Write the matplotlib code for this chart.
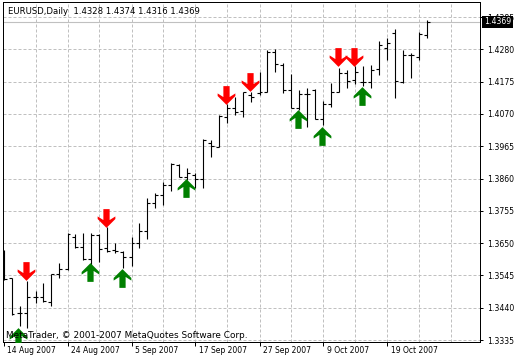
import numpy as np
import matplotlib
matplotlib.use('Agg')
import matplotlib.pyplot as plt
from matplotlib.path import Path

# daily EURUSD bars, 14 Aug 2007 .. 26 Oct 2007
opens = [1.3589, 1.3537, 1.3424, 1.3424, 1.3475, 1.3475, 1.3459, 1.3550, 1.3566, 1.3670,
         1.3637, 1.3598, 1.3676, 1.3634, 1.3628, 1.3621, 1.3605, 1.3650, 1.3689, 1.3780,
         1.3806, 1.3839, 1.3904, 1.3865, 1.3871, 1.3858, 1.3975, 1.3962, 1.4060, 1.4089,
         1.4079, 1.4131, 1.4138, 1.4141, 1.4271, 1.4229, 1.4148, 1.4089, 1.4135, 1.4148,
         1.4053, 1.4102, 1.4141, 1.4203, 1.4180, 1.4174, 1.4174, 1.4216, 1.4284, 1.4333,
         1.4174, 1.4261, 1.4255, 1.4328]
highs = [1.3628, 1.3537, 1.3446, 1.3527, 1.3494, 1.3520, 1.3550, 1.3585, 1.3683, 1.3680,
         1.3683, 1.3683, 1.3680, 1.3702, 1.3650, 1.3624, 1.3670, 1.3715, 1.3797, 1.3813,
         1.3849, 1.3910, 1.3907, 1.3894, 1.3878, 1.3988, 1.3985, 1.4066, 1.4102, 1.4125,
         1.4141, 1.4141, 1.4206, 1.4278, 1.4281, 1.4235, 1.4200, 1.4148, 1.4154, 1.4151,
         1.4112, 1.4170, 1.4219, 1.4213, 1.4226, 1.4226, 1.4229, 1.4307, 1.4317, 1.4346,
         1.4278, 1.4268, 1.4336, 1.4374]
lows = [1.3530, 1.3416, 1.3381, 1.3374, 1.3455, 1.3459, 1.3446, 1.3537, 1.3563, 1.3634,
        1.3595, 1.3576, 1.3589, 1.3621, 1.3618, 1.3569, 1.3576, 1.3634, 1.3663, 1.3764,
        1.3774, 1.3819, 1.3865, 1.3855, 1.3829, 1.3829, 1.3930, 1.3962, 1.4040, 1.4066,
        1.4060, 1.4109, 1.4131, 1.4141, 1.4206, 1.4138, 1.4089, 1.4083, 1.4027, 1.4053,
        1.4034, 1.4092, 1.4141, 1.4154, 1.4167, 1.4161, 1.4154, 1.4196, 1.4245, 1.4122,
        1.4170, 1.4187, 1.4245, 1.4316]
closes = [1.3533, 1.3420, 1.3424, 1.3475, 1.3475, 1.3462, 1.3550, 1.3566, 1.3680, 1.3637,
          1.3598, 1.3676, 1.3631, 1.3624, 1.3624, 1.3605, 1.3650, 1.3689, 1.3780, 1.3806,
          1.3839, 1.3907, 1.3865, 1.3878, 1.3858, 1.3985, 1.3966, 1.4063, 1.4089, 1.4076,
          1.4141, 1.4125, 1.4141, 1.4271, 1.4232, 1.4148, 1.4089, 1.4135, 1.4135, 1.4053,
          1.4102, 1.4141, 1.4203, 1.4177, 1.4206, 1.4174, 1.4213, 1.4294, 1.4300, 1.4177,
          1.4261, 1.4261, 1.4330, 1.4369]

# signal arrows (bar index, price)
sell_bars = [3, 13, 28, 31, 42, 44]
sell_prices = [1.3559, 1.3732, 1.4131, 1.4174, 1.4255, 1.4255]
buy_bars = [2, 11, 15, 23, 37, 40, 45]
buy_prices = [1.3345, 1.3555, 1.3537, 1.3829, 1.4053, 1.3998, 1.4127]

price_ticks = [1.3335, 1.3440, 1.3545, 1.3650, 1.3755, 1.3860, 1.3965, 1.4070, 1.4175, 1.4280, 1.4385]
date_bars = [0, 8, 16, 24, 32, 40, 48]
date_labels = ['14 Aug 2007', '24 Aug 2007', '5 Sep 2007', '17 Sep 2007',
               '27 Sep 2007', '9 Oct 2007', '19 Oct 2007']

title = 'EURUSD,Daily  1.4328 1.4374 1.4316 1.4369'
copyright_txt = 'MetaTrader, \u00a9 2001-2007 MetaQuotes Software Corp.'

fig = plt.figure(figsize=(5.2, 3.6), dpi=100)
ax = fig.add_axes([3/520, 18/360, 477/520, 340/360])
ax.set_xlim(-0.0625, 59.5625)
ax.set_ylim(1.33285, 1.44338)

grid_col = '#c0c0c0'
for k in range(4, 60, 4):
    ax.axvline(k, color=grid_col, lw=0.72, ls=(0, (3, 2)), zorder=0)
for p in price_ticks:
    ax.axhline(p, color=grid_col, lw=0.72, ls=(0, (3, 2)), zorder=0)
ax.axhline(closes[-1], color=grid_col, lw=0.8, zorder=0.5)

# OHLC bars
x = np.arange(len(opens))
ax.vlines(x, lows, highs, color='black', lw=0.8, zorder=2)
ax.hlines(opens, x - 0.375, x, color='black', lw=0.8, zorder=2)
ax.hlines(closes, x, x + 0.375, color='black', lw=0.8, zorder=2)

# arrows
dv = [(-3, 9), (3, 9), (3, -1.5), (8.5, 2), (8.5, -0.5), (0, -9), (-8.5, -0.5), (-8.5, 2), (-3, -1.5)]
down_marker = Path(dv + [dv[0]], closed=True)
up_marker = Path([(a, -b) for a, b in dv] + [(dv[0][0], -dv[0][1])], closed=True)
ax.plot(np.array(sell_bars) - 0.15, sell_prices, ls='none', marker=down_marker,
        ms=13.5, mfc='#ff0000', mec='none', zorder=4, clip_on=False)
ax.plot(np.array(buy_bars) - 0.15, buy_prices, ls='none', marker=up_marker,
        ms=13.5, mfc='#008000', mec='none', zorder=4)

# axes
for s in ax.spines.values():
    s.set_linewidth(0.72)
    s.set_color('black')
ax.yaxis.tick_right()
ax.set_yticks(price_ticks)
ax.set_yticklabels(['%.4f' % p for p in price_ticks], fontsize=5.6)
ax.tick_params(axis='y', direction='out', length=2.5, width=0.72, pad=2.5, colors='black')
ax.set_xticks(date_bars)
ax.set_xticklabels([])
ax.tick_params(axis='x', direction='out', length=3, width=0.72)

for b, lab in zip(date_bars, date_labels):
    ax.annotate(lab, xy=(b, 0), xycoords=('data', 'axes fraction'), xytext=(3.5, -4),
                textcoords='offset pixels', ha='left', va='top', fontsize=5.5,
                annotation_clip=False)

ax.annotate(title, xy=(0, 1), xycoords='axes fraction', xytext=(5, -12),
            textcoords='offset pixels', ha='left', va='baseline', fontsize=6.1, zorder=6)
ax.annotate(copyright_txt, xy=(0, 0), xycoords='axes fraction', xytext=(3, 4),
            textcoords='offset pixels', ha='left', va='baseline', fontsize=6.4, zorder=6)

# current price box on the price scale (covers the top tick label like in MT4)
ax.annotate('%.4f' % closes[-1], xy=(1, closes[-1]), xycoords=('axes fraction', 'data'),
            xytext=(4, 0), textcoords='offset pixels', ha='left', va='center',
            color='white', fontsize=5.6, annotation_clip=False, zorder=10,
            bbox=dict(boxstyle='square,pad=0.2', fc='black', ec='none'))

fig.savefig('out.png', dpi=100)
